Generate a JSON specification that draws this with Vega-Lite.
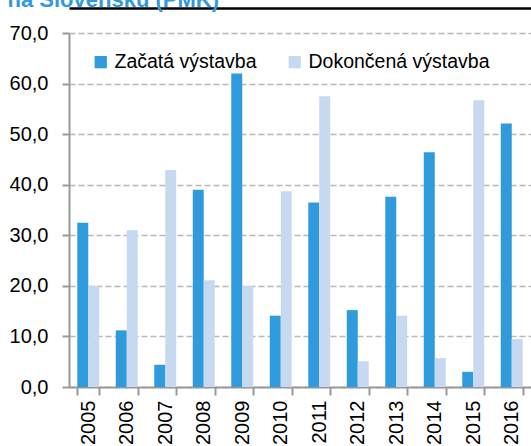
{
  "$schema": "https://vega.github.io/schema/vega-lite/v6.json",
  "width": 462,
  "height": 354,
  "autosize": {"type": "none"},
  "padding": {"left": 69, "top": 33, "right": 0, "bottom": 59},
  "background": "white",
  "data": {
    "values": [
      {"year": "2005", "series": "Začatá výstavba", "value": 32.5},
      {"year": "2005", "series": "Dokončená výstavba", "value": 20.0},
      {"year": "2006", "series": "Začatá výstavba", "value": 11.2},
      {"year": "2006", "series": "Dokončená výstavba", "value": 31.0},
      {"year": "2007", "series": "Začatá výstavba", "value": 4.4},
      {"year": "2007", "series": "Dokončená výstavba", "value": 42.9},
      {"year": "2008", "series": "Začatá výstavba", "value": 39.0},
      {"year": "2008", "series": "Dokončená výstavba", "value": 21.1},
      {"year": "2009", "series": "Začatá výstavba", "value": 62.0},
      {"year": "2009", "series": "Dokončená výstavba", "value": 20.0},
      {"year": "2010", "series": "Začatá výstavba", "value": 14.1},
      {"year": "2010", "series": "Dokončená výstavba", "value": 38.7},
      {"year": "2011", "series": "Začatá výstavba", "value": 36.5},
      {"year": "2011", "series": "Dokončená výstavba", "value": 57.5},
      {"year": "2012", "series": "Začatá výstavba", "value": 15.2},
      {"year": "2012", "series": "Dokončená výstavba", "value": 5.1},
      {"year": "2013", "series": "Začatá výstavba", "value": 37.6},
      {"year": "2013", "series": "Dokončená výstavba", "value": 14.1},
      {"year": "2014", "series": "Začatá výstavba", "value": 46.4},
      {"year": "2014", "series": "Dokončená výstavba", "value": 5.7},
      {"year": "2015", "series": "Začatá výstavba", "value": 3.0},
      {"year": "2015", "series": "Dokončená výstavba", "value": 56.7},
      {"year": "2016", "series": "Začatá výstavba", "value": 52.1},
      {"year": "2016", "series": "Dokončená výstavba", "value": 9.5}
    ]
  },
  "layer": [
    {
      "mark": {"type": "bar"},
      "encoding": {
        "x": {
          "field": "year",
          "type": "nominal",
          "scale": {"paddingInner": 0.43, "paddingOuter": 0.215},
          "axis": {
            "orient": "bottom",
            "title": null,
            "labelAngle": -90,
            "labelAlign": "right",
            "labelBaseline": "middle",
            "labelFontSize": 20,
            "labelFont": "Liberation Sans",
            "labelColor": "black",
            "labelPadding": 5,
            "tickBand": "extent",
            "tickSize": 8,
            "tickWidth": 2,
            "tickColor": "#999999",
            "domainColor": "#999999",
            "domainWidth": 2,
            "grid": false
          }
        },
        "xOffset": {
          "field": "series",
          "type": "nominal",
          "sort": ["Začatá výstavba", "Dokončená výstavba"]
        },
        "y": {
          "field": "value",
          "type": "quantitative",
          "scale": {"domain": [0, 70], "nice": false},
          "axis": {
            "title": null,
            "values": [0, 10, 20, 30, 40, 50, 60, 70],
            "labelExpr": "replace(format(datum.value, '.1f'), '.', ',')",
            "labelFontSize": 20,
            "labelFont": "Liberation Sans",
            "labelColor": "black",
            "labelPadding": 14,
            "tickSize": 7,
            "tickWidth": 2,
            "tickColor": "#999999",
            "domainColor": "#999999",
            "domainWidth": 2,
            "grid": true,
            "gridColor": "#b8b8b8",
            "gridWidth": 1.5,
            "gridDash": [6, 3]
          }
        },
        "color": {
          "field": "series",
          "type": "nominal",
          "sort": ["Začatá výstavba", "Dokončená výstavba"],
          "scale": {
            "domain": ["Začatá výstavba", "Dokončená výstavba"],
            "range": ["#2f9adc", "#c6d9f1"]
          },
          "legend": {
            "orient": "none",
            "legendX": 22,
            "legendY": 19,
            "direction": "horizontal",
            "title": null,
            "symbolType": "square",
            "symbolSize": 150,
            "symbolStrokeWidth": 0,
            "labelFontSize": 19.5,
            "labelFont": "Liberation Sans",
            "labelColor": "black",
            "labelLimit": 0,
            "labelOffset": 4,
            "columnPadding": 28
          }
        }
      }
    },
    {
      "mark": {"type": "bar", "opacity": 0},
      "encoding": {
        "x": {
          "field": "year",
          "type": "nominal",
          "scale": {"paddingInner": 0.43, "paddingOuter": 0.215},
          "axis": {
            "orient": "top",
            "title": "na Slovensku (PMK)",
            "titleAnchor": "start",
            "titleAlign": "left",
            "titleX": -62,
            "titleY": -2,
            "titleBaseline": "alphabetic",
            "titleFontSize": 22,
            "titleFont": "Liberation Sans",
            "titleFontWeight": "bold",
            "titleColor": "#3399dd",
            "labels": false,
            "ticks": false,
            "grid": false,
            "domain": true,
            "offset": 25,
            "domainColor": "black",
            "domainWidth": 2.5,
            "zindex": 2
          }
        },
        "y": {"field": "value", "type": "quantitative"}
      }
    }
  ],
  "resolve": {"axis": {"x": "independent"}},
  "config": {"view": {"stroke": null}}
}
